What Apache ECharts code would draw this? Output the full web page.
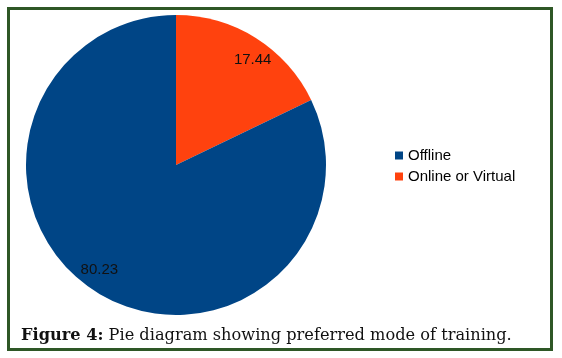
<!DOCTYPE html>
<html><head><meta charset="utf-8">
<script src="https://cdn.jsdelivr.net/npm/echarts@6/dist/echarts.min.js"></script>
<style>html,body{margin:0;padding:0;background:#fff}#c{width:562px;height:358px}</style>
</head><body><div id="c"></div>
<script>
const categories = ['Online or Virtual', 'Offline'];
const values = [17.44, 80.23];
const colors = ['#ff420e', '#004586'];
const legendOrder = ['Offline', 'Online or Virtual'];
const captionBold = 'Figure 4:';
const captionText = ' Pie diagram showing preferred mode of training.';

const data = categories.map((c, i) => ({ name: c, value: values[i], itemStyle: { color: colors[i] } }));
const chart = echarts.init(document.getElementById('c'), null, { renderer: 'canvas' });
chart.setOption({
  animation: false,
  backgroundColor: '#fff',
  legend: {
    data: legendOrder,
    orient: 'vertical',
    left: 390, top: 143,
    icon: 'rect', itemWidth: 8, itemHeight: 8, itemGap: 6,
    textStyle: { fontFamily: 'Liberation Sans', fontSize: 15, color: '#000' }
  },
  series: [{
    type: 'pie', center: [176, 165], radius: [0, 150],
    startAngle: 90, clockwise: true, silent: true,
    label: { show: false }, labelLine: { show: false },
    data: data
  }, {
    type: 'pie', center: [176, 165], radius: [104, 150],
    startAngle: 86, clockwise: true, silent: true,
    itemStyle: { color: 'rgba(0,0,0,0)', borderWidth: 0 },
    label: { show: true, position: 'inside', formatter: p => p.value.toFixed(2),
      fontFamily: 'Liberation Sans', fontSize: 15, color: '#111' },
    labelLine: { show: false },
    data: categories.map((c, i) => ({ name: c + ' ', value: values[i] }))
  }],
  graphic: [{
    type: 'rect', shape: { x: 8.5, y: 8.5, width: 543, height: 341 },
    style: { fill: 'none', stroke: '#2e5726', lineWidth: 3 }
  }, {
    type: 'text', left: 21, top: 328,
    style: {
      text: '{b|' + captionBold + '}' + captionText,
      font: '16.2px "DejaVu Serif"', fill: '#111',
      rich: { b: { fontFamily: 'DejaVu Serif', fontSize: 16.2, fontWeight: 'bold', fill: '#111' } }
    }
  }]
});
</script></body></html>
